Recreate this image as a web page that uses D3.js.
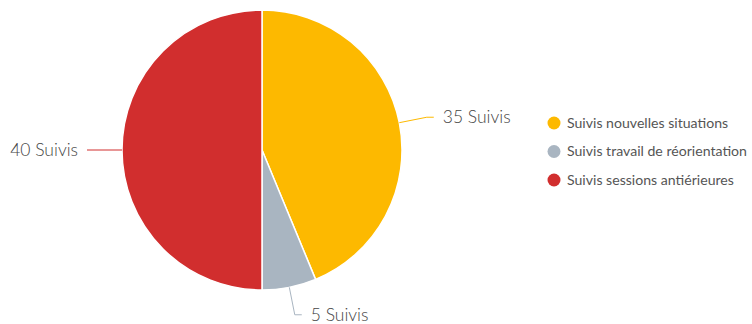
<!DOCTYPE html>
<html>
<head>
<meta charset="utf-8">
<script src="https://cdn.jsdelivr.net/npm/d3@7"></script>
<style>
  html, body { margin: 0; padding: 0; background: #fff; }
  svg { display: block; font-family: Lato, "Open Sans", sans-serif; }
</style>
</head>
<body>
<svg id="chart" width="752" height="324"></svg>
<script>
const categories = ["Suivis nouvelles situations", "Suivis travail de réorientation", "Suivis sessions antiérieures"];
const values = [35, 5, 40];
const valueLabels = ["35 Suivis", "5 Suivis", "40 Suivis"];
const colors = ["#FDB900", "#A9B5C1", "#D12E2E"];

const svg = d3.select("#chart");
const cx = 262, cy = 150, radius = 140;

const pie = d3.pie().sort(null).value(d => d)(values);
const arc = d3.arc().innerRadius(0).outerRadius(radius);

const g = svg.append("g").attr("transform", `translate(${cx},${cy})`);

g.selectAll("path.slice")
  .data(pie)
  .join("path")
  .attr("class", "slice")
  .attr("d", arc)
  .attr("fill", (d, i) => colors[i])
  .attr("stroke", "#fff")
  .attr("stroke-width", 1.5);

// leader lines: radial segment, then short horizontal tail
const lead = 28, tail = 7, gap = 9;
pie.forEach((d, i) => {
  const a = (d.startAngle + d.endAngle) / 2;
  const sx = Math.sin(a), sy = -Math.cos(a);
  const p0 = [sx * radius, sy * radius];
  const p1 = [sx * (radius + lead), sy * (radius + lead)];
  const dir = sx >= 0 ? 1 : -1;
  const p2 = [p1[0] + dir * tail, p1[1]];
  g.append("polyline")
    .attr("points", [p0, p1, p2].map(p => p.join(",")).join(" "))
    .attr("fill", "none")
    .attr("stroke", colors[i])
    .attr("stroke-width", 1);
  g.append("text")
    .attr("x", p2[0] + dir * gap)
    .attr("y", p2[1])
    .attr("dy", "0.35em")
    .attr("text-anchor", dir > 0 ? "start" : "end")
    .attr("font-size", 17.5)
    .attr("font-weight", 300)
    .attr("fill", "#444")
    .text(valueLabels[i]);
});

// legend
const legend = svg.append("g").attr("transform", "translate(554,123)");
const item = legend.selectAll("g")
  .data(categories)
  .join("g")
  .attr("transform", (d, i) => `translate(0,${i * 28.5})`);
item.append("circle")
  .attr("r", 6.5)
  .attr("fill", (d, i) => colors[i]);
item.append("text")
  .attr("x", 13)
  .attr("dy", "0.35em")
  .attr("font-size", 14.1)
  .attr("fill", "#555")
  .text(d => d);
</script>
</body>
</html>
